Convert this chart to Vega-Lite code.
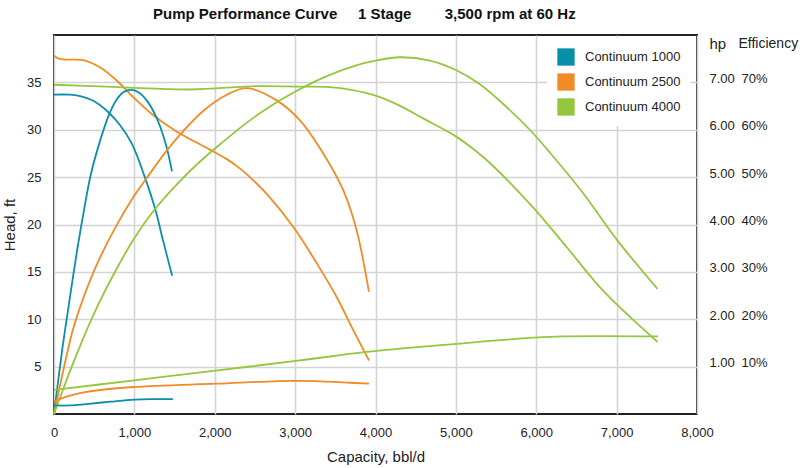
{
  "$schema": "https://vega.github.io/schema/vega-lite/v6.json",
  "width": 643,
  "height": 379,
  "autosize": "none",
  "padding": {"left": 54, "top": 35, "right": 103, "bottom": 54},
  "title": {
    "text": "Pump Performance Curve\u00a0\u00a0\u00a0\u00a0\u00a01 Stage\u00a0\u00a0\u00a0\u00a0\u00a0\u00a0\u00a0\u00a03,500 rpm at 60 Hz",
    "anchor": "start",
    "frame": "group",
    "dx": 99,
    "offset": 13,
    "font": "Liberation Sans",
    "fontSize": 15,
    "fontWeight": "bold",
    "color": "#111"
  },
  "config": {
    "view": {"stroke": "#222", "strokeWidth": 2},
    "axis": {
      "labelFont": "Liberation Sans",
      "titleFont": "Liberation Sans",
      "labelFontSize": 13,
      "titleFontSize": 15,
      "titleFontWeight": "normal",
      "labelColor": "#222",
      "titleColor": "#222",
      "domain": false,
      "ticks": false,
      "labelFlush": false,
      "gridColor": "#d4d4d4",
      "gridWidth": 1.6
    }
  },
  "data": {
    "values": [
      {"m": "Continuum 1000", "c": "head", "q": 0, "v": 33.7},
      {"m": "Continuum 1000", "c": "head", "q": 200, "v": 33.7},
      {"m": "Continuum 1000", "c": "head", "q": 350, "v": 33.5},
      {"m": "Continuum 1000", "c": "head", "q": 500, "v": 33.0},
      {"m": "Continuum 1000", "c": "head", "q": 670, "v": 31.9},
      {"m": "Continuum 1000", "c": "head", "q": 820, "v": 30.5},
      {"m": "Continuum 1000", "c": "head", "q": 970, "v": 28.5},
      {"m": "Continuum 1000", "c": "head", "q": 1130, "v": 25.0},
      {"m": "Continuum 1000", "c": "head", "q": 1260, "v": 21.6},
      {"m": "Continuum 1000", "c": "head", "q": 1360, "v": 18.2},
      {"m": "Continuum 1000", "c": "head", "q": 1470, "v": 14.6},

      {"m": "Continuum 2500", "c": "head", "q": 0, "v": 37.8},
      {"m": "Continuum 2500", "c": "head", "q": 60, "v": 37.5},
      {"m": "Continuum 2500", "c": "head", "q": 150, "v": 37.4},
      {"m": "Continuum 2500", "c": "head", "q": 360, "v": 37.35},
      {"m": "Continuum 2500", "c": "head", "q": 570, "v": 36.6},
      {"m": "Continuum 2500", "c": "head", "q": 780, "v": 35.2},
      {"m": "Continuum 2500", "c": "head", "q": 990, "v": 33.4},
      {"m": "Continuum 2500", "c": "head", "q": 1240, "v": 31.5},
      {"m": "Continuum 2500", "c": "head", "q": 1530, "v": 29.8},
      {"m": "Continuum 2500", "c": "head", "q": 1940, "v": 27.9},
      {"m": "Continuum 2500", "c": "head", "q": 2150, "v": 26.9},
      {"m": "Continuum 2500", "c": "head", "q": 2300, "v": 26.0},
      {"m": "Continuum 2500", "c": "head", "q": 2450, "v": 24.9},
      {"m": "Continuum 2500", "c": "head", "q": 2650, "v": 23.2},
      {"m": "Continuum 2500", "c": "head", "q": 2980, "v": 19.7},
      {"m": "Continuum 2500", "c": "head", "q": 3270, "v": 15.9},
      {"m": "Continuum 2500", "c": "head", "q": 3520, "v": 12.3},
      {"m": "Continuum 2500", "c": "head", "q": 3720, "v": 8.9},
      {"m": "Continuum 2500", "c": "head", "q": 3920, "v": 5.65},

      {"m": "Continuum 4000", "c": "head", "q": 0, "v": 34.75},
      {"m": "Continuum 4000", "c": "head", "q": 800, "v": 34.5},
      {"m": "Continuum 4000", "c": "head", "q": 1690, "v": 34.25},
      {"m": "Continuum 4000", "c": "head", "q": 2520, "v": 34.6},
      {"m": "Continuum 4000", "c": "head", "q": 3060, "v": 34.55},
      {"m": "Continuum 4000", "c": "head", "q": 3433, "v": 34.5},
      {"m": "Continuum 4000", "c": "head", "q": 3700, "v": 34.2},
      {"m": "Continuum 4000", "c": "head", "q": 4000, "v": 33.6},
      {"m": "Continuum 4000", "c": "head", "q": 4262, "v": 32.7},
      {"m": "Continuum 4000", "c": "head", "q": 4594, "v": 31.2},
      {"m": "Continuum 4000", "c": "head", "q": 5000, "v": 29.3},
      {"m": "Continuum 4000", "c": "head", "q": 5257, "v": 27.7},
      {"m": "Continuum 4000", "c": "head", "q": 5460, "v": 26.2},
      {"m": "Continuum 4000", "c": "head", "q": 5960, "v": 21.8},
      {"m": "Continuum 4000", "c": "head", "q": 6380, "v": 17.6},
      {"m": "Continuum 4000", "c": "head", "q": 6790, "v": 13.4},
      {"m": "Continuum 4000", "c": "head", "q": 7210, "v": 9.9},
      {"m": "Continuum 4000", "c": "head", "q": 7510, "v": 7.6},

      {"m": "Continuum 1000", "c": "eff", "q": 0, "v": 0},
      {"m": "Continuum 1000", "c": "eff", "q": 104, "v": 13.8},
      {"m": "Continuum 1000", "c": "eff", "q": 166, "v": 21},
      {"m": "Continuum 1000", "c": "eff", "q": 228, "v": 28},
      {"m": "Continuum 1000", "c": "eff", "q": 290, "v": 34.8},
      {"m": "Continuum 1000", "c": "eff", "q": 373, "v": 43},
      {"m": "Continuum 1000", "c": "eff", "q": 456, "v": 50.4},
      {"m": "Continuum 1000", "c": "eff", "q": 572, "v": 57.6},
      {"m": "Continuum 1000", "c": "eff", "q": 680, "v": 63},
      {"m": "Continuum 1000", "c": "eff", "q": 780, "v": 66.4},
      {"m": "Continuum 1000", "c": "eff", "q": 870, "v": 68},
      {"m": "Continuum 1000", "c": "eff", "q": 966, "v": 68.4},
      {"m": "Continuum 1000", "c": "eff", "q": 1060, "v": 67.8},
      {"m": "Continuum 1000", "c": "eff", "q": 1153, "v": 66.2},
      {"m": "Continuum 1000", "c": "eff", "q": 1240, "v": 63.8},
      {"m": "Continuum 1000", "c": "eff", "q": 1318, "v": 60.8},
      {"m": "Continuum 1000", "c": "eff", "q": 1400, "v": 56.4},
      {"m": "Continuum 1000", "c": "eff", "q": 1468, "v": 51.2},

      {"m": "Continuum 2500", "c": "eff", "q": 0, "v": 0},
      {"m": "Continuum 2500", "c": "eff", "q": 124, "v": 9.8},
      {"m": "Continuum 2500", "c": "eff", "q": 249, "v": 18.6},
      {"m": "Continuum 2500", "c": "eff", "q": 498, "v": 30.2},
      {"m": "Continuum 2500", "c": "eff", "q": 746, "v": 38.8},
      {"m": "Continuum 2500", "c": "eff", "q": 995, "v": 46},
      {"m": "Continuum 2500", "c": "eff", "q": 1128, "v": 49.2},
      {"m": "Continuum 2500", "c": "eff", "q": 1450, "v": 56.6},
      {"m": "Continuum 2500", "c": "eff", "q": 1860, "v": 64},
      {"m": "Continuum 2500", "c": "eff", "q": 2150, "v": 67.4},
      {"m": "Continuum 2500", "c": "eff", "q": 2400, "v": 68.8},
      {"m": "Continuum 2500", "c": "eff", "q": 2770, "v": 66.2},
      {"m": "Continuum 2500", "c": "eff", "q": 3060, "v": 62},
      {"m": "Continuum 2500", "c": "eff", "q": 3350, "v": 55},
      {"m": "Continuum 2500", "c": "eff", "q": 3600, "v": 47.2},
      {"m": "Continuum 2500", "c": "eff", "q": 3765, "v": 38.8},
      {"m": "Continuum 2500", "c": "eff", "q": 3918, "v": 25.8},

      {"m": "Continuum 4000", "c": "eff", "q": 0, "v": 0},
      {"m": "Continuum 4000", "c": "eff", "q": 249, "v": 11.2},
      {"m": "Continuum 4000", "c": "eff", "q": 498, "v": 21.2},
      {"m": "Continuum 4000", "c": "eff", "q": 746, "v": 29.6},
      {"m": "Continuum 4000", "c": "eff", "q": 995, "v": 37},
      {"m": "Continuum 4000", "c": "eff", "q": 1244, "v": 43},
      {"m": "Continuum 4000", "c": "eff", "q": 1534, "v": 48.6},
      {"m": "Continuum 4000", "c": "eff", "q": 1824, "v": 53.4},
      {"m": "Continuum 4000", "c": "eff", "q": 2100, "v": 57.4},
      {"m": "Continuum 4000", "c": "eff", "q": 2400, "v": 61.5},
      {"m": "Continuum 4000", "c": "eff", "q": 2687, "v": 64.9},
      {"m": "Continuum 4000", "c": "eff", "q": 2977, "v": 67.8},
      {"m": "Continuum 4000", "c": "eff", "q": 3250, "v": 70.2},
      {"m": "Continuum 4000", "c": "eff", "q": 3433, "v": 71.6},
      {"m": "Continuum 4000", "c": "eff", "q": 3760, "v": 73.6},
      {"m": "Continuum 4000", "c": "eff", "q": 4000, "v": 74.6},
      {"m": "Continuum 4000", "c": "eff", "q": 4303, "v": 75.3},
      {"m": "Continuum 4000", "c": "eff", "q": 4677, "v": 74.6},
      {"m": "Continuum 4000", "c": "eff", "q": 5000, "v": 72.6},
      {"m": "Continuum 4000", "c": "eff", "q": 5299, "v": 69.6},
      {"m": "Continuum 4000", "c": "eff", "q": 5630, "v": 64.8},
      {"m": "Continuum 4000", "c": "eff", "q": 5920, "v": 60.0},
      {"m": "Continuum 4000", "c": "eff", "q": 6169, "v": 55.2},
      {"m": "Continuum 4000", "c": "eff", "q": 6584, "v": 46.6},
      {"m": "Continuum 4000", "c": "eff", "q": 7002, "v": 36.8},
      {"m": "Continuum 4000", "c": "eff", "q": 7509, "v": 26.4},

      {"m": "Continuum 1000", "c": "hp", "q": 0, "v": 0.18},
      {"m": "Continuum 1000", "c": "hp", "q": 200, "v": 0.18},
      {"m": "Continuum 1000", "c": "hp", "q": 400, "v": 0.21},
      {"m": "Continuum 1000", "c": "hp", "q": 700, "v": 0.26},
      {"m": "Continuum 1000", "c": "hp", "q": 1000, "v": 0.305},
      {"m": "Continuum 1000", "c": "hp", "q": 1250, "v": 0.315},
      {"m": "Continuum 1000", "c": "hp", "q": 1480, "v": 0.315},

      {"m": "Continuum 2500", "c": "hp", "q": 0, "v": 0.27},
      {"m": "Continuum 2500", "c": "hp", "q": 60, "v": 0.31},
      {"m": "Continuum 2500", "c": "hp", "q": 200, "v": 0.39},
      {"m": "Continuum 2500", "c": "hp", "q": 450, "v": 0.48},
      {"m": "Continuum 2500", "c": "hp", "q": 990, "v": 0.57},
      {"m": "Continuum 2500", "c": "hp", "q": 2020, "v": 0.64},
      {"m": "Continuum 2500", "c": "hp", "q": 3020, "v": 0.70},
      {"m": "Continuum 2500", "c": "hp", "q": 3680, "v": 0.66},
      {"m": "Continuum 2500", "c": "hp", "q": 3920, "v": 0.64},

      {"m": "Continuum 4000", "c": "hp", "q": 0, "v": 0.51},
      {"m": "Continuum 4000", "c": "hp", "q": 1000, "v": 0.71},
      {"m": "Continuum 4000", "c": "hp", "q": 1982, "v": 0.91},
      {"m": "Continuum 4000", "c": "hp", "q": 3060, "v": 1.13},
      {"m": "Continuum 4000", "c": "hp", "q": 3889, "v": 1.31},
      {"m": "Continuum 4000", "c": "hp", "q": 5008, "v": 1.48},
      {"m": "Continuum 4000", "c": "hp", "q": 5962, "v": 1.61},
      {"m": "Continuum 4000", "c": "hp", "q": 6335, "v": 1.64},
      {"m": "Continuum 4000", "c": "hp", "q": 7516, "v": 1.64}
    ]
  },
  "encoding": {
    "x": {
      "field": "q",
      "type": "quantitative",
      "scale": {"domain": [0, 8000], "nice": false},
      "axis": {
        "title": "Capacity, bbl/d",
        "values": [0, 1000, 2000, 3000, 4000, 5000, 6000, 7000, 8000],
        "format": ",.0f",
        "labelPadding": 12,
        "titlePadding": 10
      }
    },
    "color": {
      "field": "m",
      "type": "nominal",
      "scale": {
        "domain": ["Continuum 1000", "Continuum 2500", "Continuum 4000"],
        "range": ["#0a8fa9", "#f18b25", "#94c73d"]
      },
      "legend": {
        "orient": "none",
        "legendX": 493,
        "legendY": 3,
        "title": null,
        "padding": 10,
        "fillColor": "white",
        "symbolType": "square",
        "symbolSize": 300,
        "symbolStrokeWidth": 0,
        "labelFont": "Liberation Sans",
        "labelFontSize": 13,
        "labelColor": "#222",
        "labelOffset": 10,
        "rowPadding": 7,
        "encode": {
          "symbols": {
            "update": {
              "fill": {"scale": "color", "field": "value"},
              "stroke": {"value": "transparent"},
              "opacity": {"value": 1}
            }
          }
        }
      }
    }
  },
  "layer": [
    {
      "transform": [{"filter": "datum.c === 'head'"}],
      "mark": {"type": "line", "interpolate": "catmull-rom", "strokeWidth": 1.8},
      "encoding": {
        "y": {
          "field": "v",
          "type": "quantitative",
          "scale": {"domain": [0, 40], "nice": false},
          "axis": {
            "orient": "left",
            "title": "Head, ft",
            "values": [5, 10, 15, 20, 25, 30, 35],
            "labelPadding": 13,
            "titlePadding": 9
          }
        }
      }
    },
    {
      "transform": [{"filter": "datum.c === 'eff'"}],
      "mark": {"type": "line", "interpolate": "catmull-rom", "strokeWidth": 1.8},
      "encoding": {
        "y": {
          "field": "v",
          "type": "quantitative",
          "scale": {"domain": [0, 80], "nice": false},
          "axis": {
            "orient": "right",
            "grid": false,
            "title": "Efficiency",
            "titleFontSize": 14,
            "titleAngle": 0,
            "titleAlign": "left",
            "titleBaseline": "middle",
            "titleX": 41,
            "titleY": 8,
            "values": [10, 20, 30, 40, 50, 60, 70],
            "labelExpr": "datum.value + '%'",
            "labelBaseline": "alphabetic",
            "labelPadding": 44
          }
        }
      }
    },
    {
      "transform": [{"filter": "datum.c === 'hp'"}],
      "mark": {"type": "line", "interpolate": "catmull-rom", "strokeWidth": 1.8},
      "encoding": {
        "y": {
          "field": "v",
          "type": "quantitative",
          "scale": {"domain": [0, 8], "nice": false},
          "axis": {
            "orient": "right",
            "grid": false,
            "title": "hp",
            "titleAngle": 0,
            "titleAlign": "left",
            "titleBaseline": "middle",
            "titleX": 12,
            "titleY": 8,
            "values": [1, 2, 3, 4, 5, 6, 7],
            "format": ".2f",
            "labelBaseline": "alphabetic",
            "labelPadding": 12
          }
        }
      }
    }
  ],
  "resolve": {"scale": {"y": "independent"}, "axis": {"y": "independent"}}
}
